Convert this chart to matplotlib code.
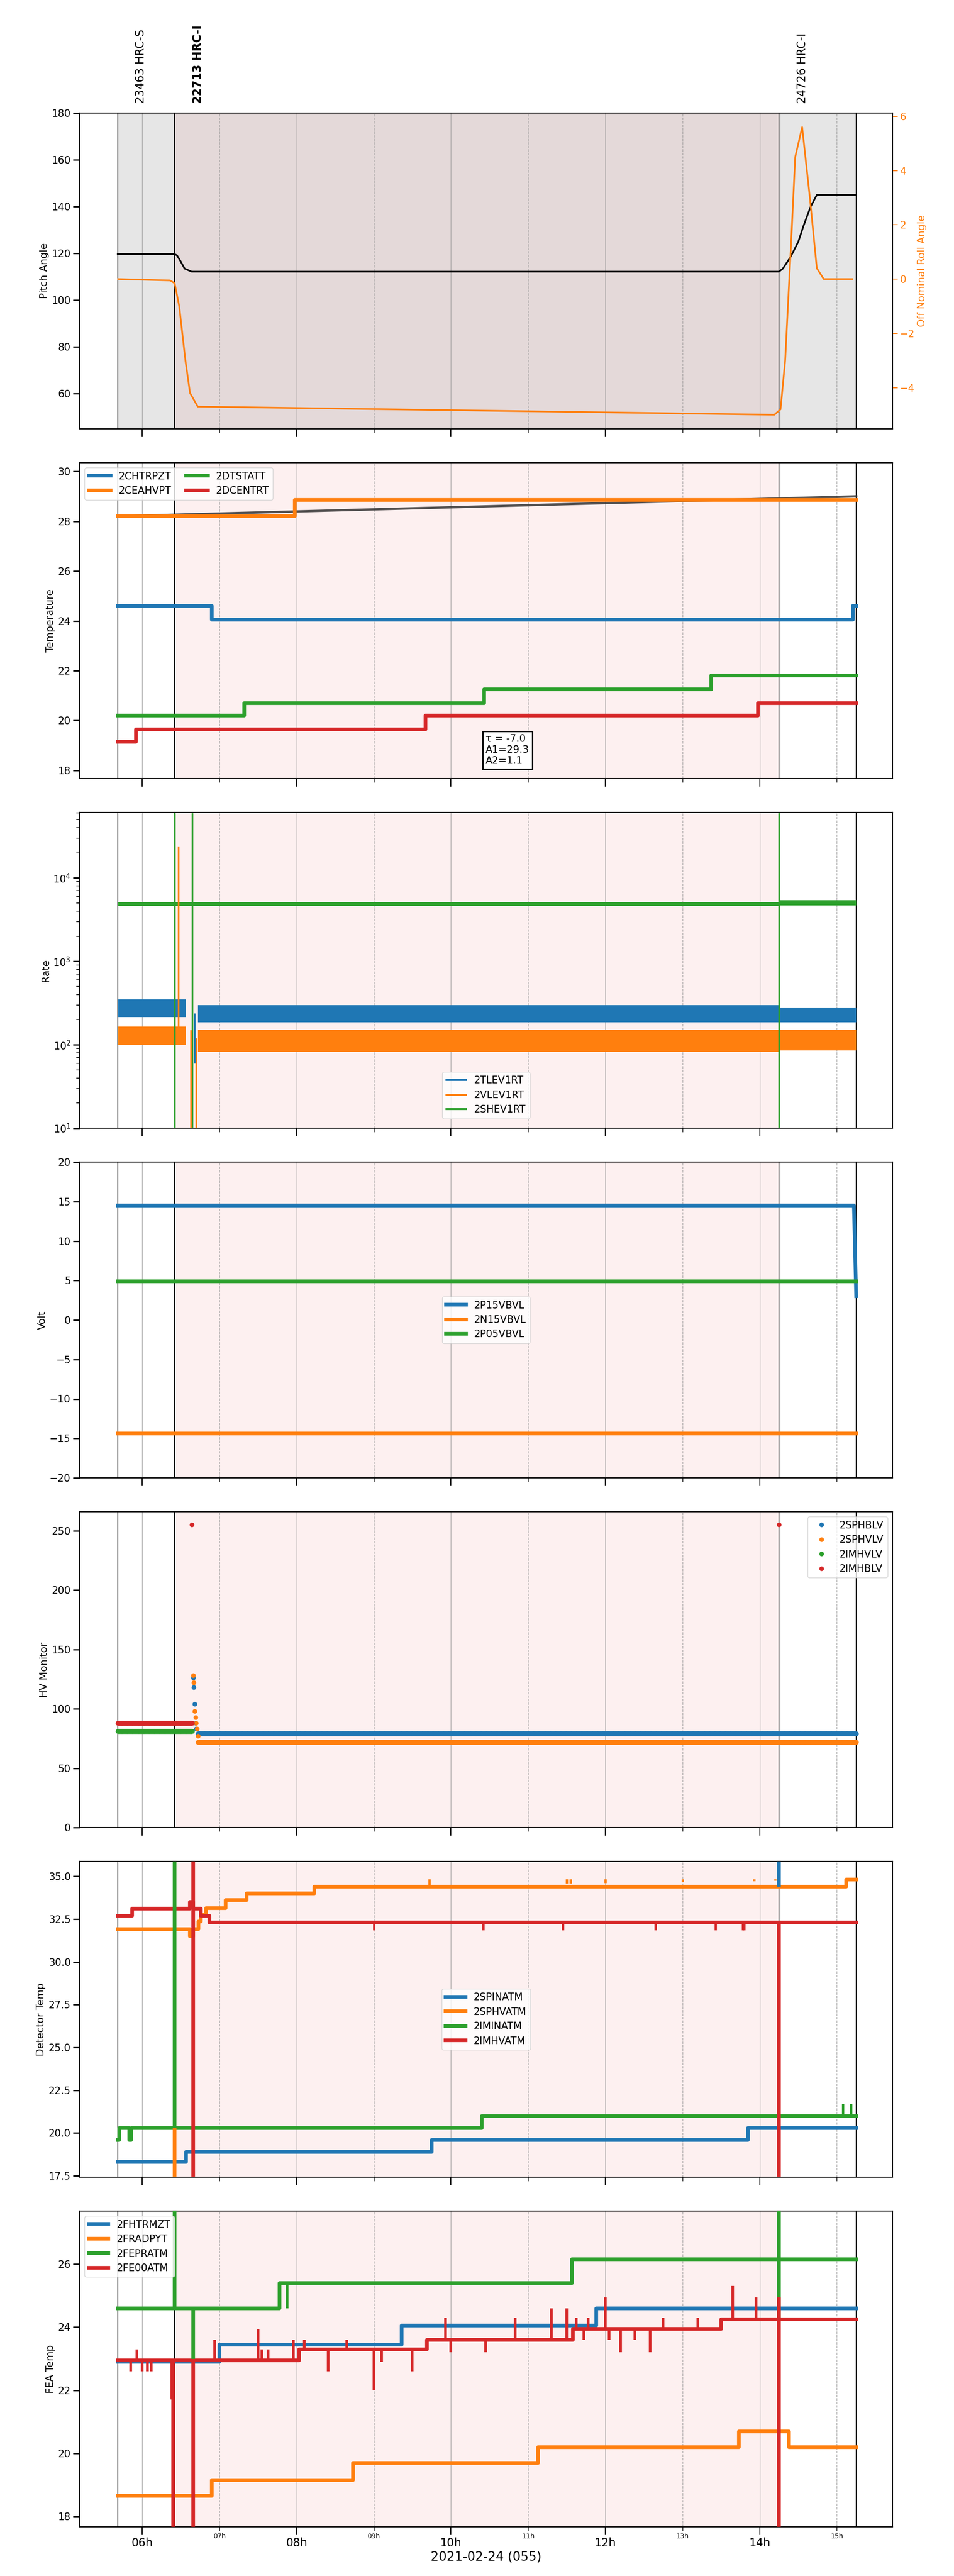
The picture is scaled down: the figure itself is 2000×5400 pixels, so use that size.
import numpy as np
import matplotlib
matplotlib.use("Agg")
import matplotlib.pyplot as plt
import matplotlib.ticker as mticker
from matplotlib.lines import Line2D
from matplotlib.transforms import blended_transform_factory

# ── key times (hours of 2021-02-24) ───────────────────────
T0, T_OBS2, T_OBS3, T1 = 5.683, 6.417, 14.25, 15.25
XLIM = (5.19, 15.72)

OBS_LABELS = ["23463 HRC-S", "22713 HRC-I", "24726 HRC-I"]
OBS_X = [5.98, 6.72, 14.55]
OBS_BOLD = [False, True, False]

# ── panel 1: pitch / roll ─────────────────────────────────
pitch_t = [5.683, 6.417, 6.45, 6.5, 6.55, 6.64, 14.25, 14.3, 14.4, 14.5, 14.57, 14.66, 14.74, 15.25]
pitch_v = [119.7, 119.7, 119.2, 116.5, 113.5, 112.2, 112.2, 113.5, 118.5, 125, 132, 140, 145, 145]
roll_t = [5.69, 6.36, 6.42, 6.48, 6.56, 6.62, 6.72, 14.19, 14.27, 14.33, 14.41, 14.46, 14.55, 14.65, 14.74, 14.83, 15.2]
roll_v = [0.0, -0.05, -0.15, -1.0, -3.0, -4.2, -4.7, -5.0, -4.8, -3.0, 1.5, 4.5, 5.6, 3.0, 0.4, 0.0, 0.0]

# ── panel 2: temperatures ─────────────────────────────────
temp_names = ["2CHTRPZT", "2CEAHVPT", "2DTSTATT", "2DCENTRT"]
temp_t = [[5.683, 6.9, 15.21, 15.25], [5.683, 7.98, 15.25], [5.683, 7.32, 10.43, 13.37, 15.25],
          [5.683, 5.92, 9.67, 13.98, 15.25]]
temp_v = [[24.6, 24.05, 24.6, 24.6], [28.2, 28.85, 28.85], [20.2, 20.7, 21.25, 21.8, 21.8],
          [19.15, 19.65, 20.2, 20.7, 20.7]]
model_t = [5.683, 15.25]
model_v = [28.2, 29.0]
fit_text = "τ = -7.0\nA1=29.3\nA2=1.1"

# ── panel 3: rates (noise band low / high per segment) ───
rate_names = ["2TLEV1RT", "2VLEV1RT", "2SHEV1RT"]
rate_seg_t = [[[5.683, 6.57], [6.72, 14.25], [14.27, 15.25]],
              [[5.683, 6.57], [6.72, 14.25], [14.27, 15.25]],
              [[5.683, 14.25], [14.25, 15.25]]]
rate_lo = [[215, 185, 185], [100, 82, 85], [4650, 4700]]
rate_hi = [[350, 300, 280], [165, 150, 150], [5150, 5400]]
rate_spikes = [(6.42, 2, 10, 6.0e4), (6.65, 2, 10, 6.0e4), (14.25, 2, 10, 6.0e4),
               (6.47, 1, 110, 2.4e4), (6.63, 1, 5, 150), (6.70, 1, 5, 120), (6.68, 0, 60, 240)]

# ── panel 4: volts ────────────────────────────────────────
volt_names = ["2P15VBVL", "2N15VBVL", "2P05VBVL"]
volt_t = [[5.683, 15.22, 15.25], [5.683, 15.25], [5.683, 15.25]]
volt_v = [[14.5, 14.5, 3.0], [-14.4, -14.4], [4.9, 4.9]]

# ── panel 5: HV monitor (dots) ────────────────────────────
hv_names = ["2SPHBLV", "2SPHVLV", "2IMHVLV", "2IMHBLV"]
hv_before = [None, None, 81, 88]
hv_after = [79, 72, None, None]
hv_trans_t = [[6.66, 6.67, 6.68, 6.69, 6.70], [6.66, 6.665, 6.68, 6.69, 6.70, 6.71, 6.72],
              [], [6.64, 14.25]]
hv_trans_v = [[126, 118, 104, 88, 83], [128, 122, 98, 93, 88, 83, 77], [], [255, 255]]

# ── panel 6: detector temps ───────────────────────────────
det_names = ["2SPINATM", "2SPHVATM", "2IMINATM", "2IMHVATM"]
det_t = [[5.683, 6.57, 9.75, 13.85, 15.25],
         [5.683, 6.62, 6.66, 6.73, 6.76, 6.83, 7.08, 7.35, 7.63, 8.23, 15.12, 15.25],
         [5.683, 5.7, 5.76, 5.83, 5.86, 10.4, 15.25],
         [5.683, 5.87, 6.62, 6.66, 6.76, 6.87, 15.25]]
det_v = [[18.3, 18.9, 19.6, 20.3, 20.3],
         [31.9, 31.5, 31.9, 32.35, 32.75, 33.15, 33.6, 34.0, 34.0, 34.4, 34.8, 34.8],
         [19.6, 20.3, 20.3, 19.6, 20.3, 21.0, 21.0],
         [32.7, 33.1, 33.5, 33.1, 32.7, 32.3, 32.3]]
det_spikes = {1: ([9.72, 11.5, 11.55, 12.0, 13.0, 13.93, 14.2], 34.85),
              3: ([9.0, 10.42, 11.45, 12.65, 13.43, 13.78, 13.8], 31.85),
              2: ([15.08, 15.18], 21.7)}
det_vlines = [(6.42, 2, 20.3, 40), (6.42, 1, 0, 20.3), (6.66, 3, 0, 40),
              (14.25, 3, 0, 32.3), (14.25, 0, 34.4, 40)]

# ── panel 7: FEA temps ────────────────────────────────────
fea_names = ["2FHTRMZT", "2FRADPYT", "2FEPRATM", "2FE00ATM"]
fea_t = [[5.683, 7.0, 9.36, 11.88, 15.25],
         [5.683, 6.9, 8.73, 11.13, 13.73, 14.38, 15.25],
         [5.683, 7.78, 11.57, 15.25],
         [5.683, 8.03, 9.69, 11.58, 13.5, 15.25]]
fea_v = [[22.9, 23.45, 24.05, 24.6, 24.6],
         [18.65, 19.15, 19.7, 20.2, 20.7, 20.2, 20.2],
         [24.6, 25.4, 26.15, 26.15],
         [22.95, 23.3, 23.6, 23.95, 24.25, 24.25]]
fea_red_spikes_t = [5.85, 5.93, 6.0, 6.07, 6.12, 6.38, 6.94, 7.5, 7.55, 7.63, 7.96, 8.1, 8.41, 8.65,
                    9.0, 9.1, 9.5, 9.93, 10.0, 10.45, 10.83, 11.3, 11.5, 11.62, 11.72, 11.78,
                    12.0, 12.05, 12.2, 12.38, 12.58, 12.75, 13.2, 13.65, 13.95]
fea_red_spikes_v = [22.6, 23.3, 22.6, 22.6, 22.6, 21.7, 23.6, 23.95, 23.3, 23.3, 23.6, 23.6,
                    22.6, 23.6, 22.0, 22.9, 22.6, 24.3, 23.2, 23.2, 24.3, 24.6, 24.6, 24.3,
                    23.6, 24.3, 24.95, 23.6, 23.2, 23.6, 23.2, 24.3, 24.3, 25.3, 24.95]
fea_green_spikes_t = [7.88, 11.4]
fea_green_spikes_v = [24.6, 25.4]
fea_vlines = [(6.42, 2, 24.6, 40), (6.66, 2, 23.0, 24.6), (6.40, 3, 0, 22.9), (6.66, 3, 0, 22.9),
              (14.25, 2, 24.3, 40), (14.25, 3, 0, 24.95)]

C = ["#1f77b4", "#ff7f0e", "#2ca02c", "#d62728"]
LW = 5.5

plt.rcParams.update({"font.family": "DejaVu Sans", "font.size": 14})
fig = plt.figure(figsize=(20, 54), dpi=100)

def panel_ax(i):
    top = 237 + 733 * i
    return fig.add_axes([167 / 2000, 1 - (top + 662) / 5400, 1704 / 2000, 662 / 5400])

def decorate(ax, shade, last=False):
    ax.set_xlim(*XLIM)
    ax.xaxis.set_major_locator(mticker.FixedLocator([6, 8, 10, 12, 14]))
    ax.xaxis.set_minor_locator(mticker.FixedLocator([7, 9, 11, 13, 15]))
    ax.grid(True, which="major", axis="x", color="#999999", lw=1.0, alpha=0.8)
    ax.grid(True, which="minor", axis="x", color="#999999", lw=1.0, ls="--", alpha=0.8)
    ax.tick_params(axis="x", which="major", length=12, width=1.5)
    ax.tick_params(axis="x", which="minor", length=6, width=1)
    ax.tick_params(axis="y", which="major", length=10, width=2, labelsize=15)
    for s in ax.spines.values():
        s.set_linewidth(1.6)
    if shade == "top":
        ax.axvspan(T0, T1, color="#e6e6e6", zorder=0)
        ax.axvspan(T_OBS2, T_OBS3, color="#e4d9d9", zorder=0)
    else:
        ax.axvspan(T_OBS2, T_OBS3, color="#fdf0f0", zorder=0)
    for t in (T0, T_OBS2, T_OBS3, T1):
        ax.axvline(t, color="black", lw=1.3, zorder=1)
    if last:
        ax.xaxis.set_major_formatter(mticker.FuncFormatter(lambda v, _: f"{int(round(v)):02d}h"))
        ax.xaxis.set_minor_formatter(mticker.FuncFormatter(lambda v, _: f"{int(round(v)):02d}h"))
        ax.tick_params(axis="x", which="major", labelsize=17)
        ax.tick_params(axis="x", which="minor", labelsize=10)
        ax.set_xlabel("2021-02-24 (055)", fontsize=19)
    else:
        ax.set_xticklabels([])
        ax.set_xticklabels([], minor=True)

# ── Panel 1 ──
ax = panel_ax(0)
decorate(ax, "top")
ax.plot(pitch_t, pitch_v, color="black", lw=2.5, zorder=3)
ax.set_ylim(45, 180)
ax.set_ylabel("Pitch Angle", fontsize=15)
ax2 = ax.twinx()
ax2.plot(roll_t, roll_v, color=C[1], lw=2.5)
ax2.set_ylim(-5.52, 6.12)
ax2.set_ylabel("Off Nominal Roll Angle", color=C[1], fontsize=15)
ax2.tick_params(axis="y", colors=C[1], length=8, width=1.5, labelsize=15)
tr = blended_transform_factory(ax.transData, ax.transAxes)
for lab, x, b in zip(OBS_LABELS, OBS_X, OBS_BOLD):
    ax.text(x, 1.03, lab, transform=tr, rotation=90, ha="center", va="bottom",
            fontsize=17, fontweight="bold" if b else "normal")

# ── Panel 2 ──
ax = panel_ax(1)
decorate(ax, "pink")
ax.plot(model_t, model_v, color="#333333", lw=3.5, alpha=0.85, zorder=2)
for k in range(4):
    ax.step(temp_t[k], temp_v[k], where="post", color=C[k], lw=LW, label=temp_names[k], zorder=3)
ax.set_ylim(17.67, 30.35)
ax.set_ylabel("Temperature", fontsize=15)
ax.legend(loc="upper left", ncol=2, fontsize=15, handlelength=2.2, columnspacing=1.5)
ax.text(10.45, 19.45, fit_text, fontsize=15, va="top", ha="left", clip_on=False,
        bbox=dict(boxstyle="square", fc="white", ec="black", lw=2), zorder=5)

# ── Panel 3 ──
ax = panel_ax(2)
decorate(ax, "pink")
for k in range(3):
    for s, (a, b) in enumerate(rate_seg_t[k]):
        ax.fill_between([a, b], rate_lo[k][s], rate_hi[k][s], color=C[k], lw=0, zorder=3)
for t, k, lo, hi in rate_spikes:
    ax.vlines(t, lo, hi, color=C[k], lw=2.5, zorder=4)
ax.set_yscale("log")
ax.set_ylim(10, 6.1e4)
ax.set_ylabel("Rate", fontsize=15)
ax.tick_params(axis="y", which="minor", length=5, width=1.2)
h = [Line2D([], [], color=C[k], lw=3) for k in range(3)]
ax.legend(h, rate_names, loc="lower center", bbox_to_anchor=(0.5, 0.015), fontsize=15)

# ── Panel 4 ──
ax = panel_ax(3)
decorate(ax, "pink")
for k in range(3):
    ax.plot(volt_t[k], volt_v[k], color=C[k], lw=LW, label=volt_names[k], zorder=3)
ax.set_ylim(-20, 20)
ax.yaxis.set_major_locator(mticker.MultipleLocator(5))
ax.set_ylabel("Volt", fontsize=15)
ax.legend(loc="center", fontsize=15)

# ── Panel 5 ──
ax = panel_ax(4)
decorate(ax, "pink")
t_before = np.arange(T0, 6.65, 0.004)
t_after = np.arange(6.72, T1, 0.004)
for k in range(4):
    ts, vs = [], []
    if hv_before[k] is not None:
        ts.append(t_before); vs.append(np.full(t_before.size, hv_before[k]))
    if hv_after[k] is not None:
        ts.append(t_after); vs.append(np.full(t_after.size, hv_after[k]))
    ts.append(np.array(hv_trans_t[k])); vs.append(np.array(hv_trans_v[k]))
    ax.plot(np.concatenate(ts), np.concatenate(vs), ".", ms=12, color=C[k], label=hv_names[k], zorder=3)
ax.set_ylim(0, 266)
ax.set_ylabel("HV Monitor", fontsize=15)
ax.legend(loc="upper right", fontsize=15, markerscale=1.0)

# ── Panel 6 ──
ax = panel_ax(5)
decorate(ax, "pink")
for k in range(4):
    ax.step(det_t[k], det_v[k], where="post", color=C[k], lw=LW, label=det_names[k], zorder=3)
for k, (ts, v) in det_spikes.items():
    base = np.interp(ts, det_t[k], det_v[k])
    ax.vlines(ts, base, v, color=C[k], lw=3.5, zorder=3)
for t, k, lo, hi in det_vlines:
    ax.vlines(t, lo, hi, color=C[k], lw=LW, zorder=4)
ax.set_ylim(17.42, 35.87)
ax.set_ylabel("Detector Temp", fontsize=15)
ax.legend(loc="center", fontsize=15)

# ── Panel 7 ──
ax = panel_ax(6)
decorate(ax, "pink", last=True)
for k in range(4):
    ax.step(fea_t[k], fea_v[k], where="post", color=C[k], lw=LW, label=fea_names[k], zorder=3)
base = [fea_v[3][np.searchsorted(fea_t[3], t, side="right") - 1] for t in fea_red_spikes_t]
ax.vlines(fea_red_spikes_t, base, fea_red_spikes_v, color=C[3], lw=4, zorder=3)
gbase = [fea_v[2][np.searchsorted(fea_t[2], t, side="right") - 1] for t in fea_green_spikes_t]
ax.vlines(fea_green_spikes_t, gbase, fea_green_spikes_v, color=C[2], lw=4, zorder=3)
for t, k, lo, hi in fea_vlines:
    ax.vlines(t, lo, hi, color=C[k], lw=LW, zorder=4)
ax.set_ylim(17.67, 27.68)
ax.set_ylabel("FEA Temp", fontsize=15)
ax.legend(loc="upper left", fontsize=15)

fig.savefig("out.png", dpi=100)
